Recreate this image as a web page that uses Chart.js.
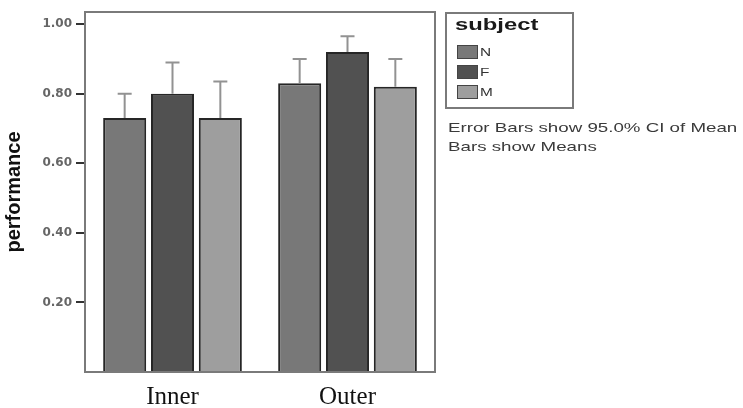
<!DOCTYPE html>
<html>
<head>
<meta charset="utf-8">
<script src="https://cdn.jsdelivr.net/npm/chart.js@4"></script>
<style>
  html, body { margin: 0; padding: 0; background: #fff; }
  #wrap { width: 743px; height: 408px; }
</style>
</head>
<body>
<div id="wrap"><canvas id="perfChart" width="743" height="408"></canvas></div>
<script>
// data
const groups = ["Inner", "Outer"];
const subjects = ["N", "F", "M"];
const meanN = [0.73, 0.83];
const meanF = [0.80, 0.92];
const meanM = [0.73, 0.82];
const ciUpperN = [0.80, 0.90];
const ciUpperF = [0.89, 0.965];
const ciUpperM = [0.835, 0.90];
const yTicks = [0.20, 0.40, 0.60, 0.80, 1.00];
const notes = ["Error Bars show 95.0% CI of Mean", "Bars show Means"];

const fills = ["#787878", "#515151", "#9e9e9e"];
const means = [meanN, meanF, meanM];
const ciUpper = [ciUpperN, ciUpperF, ciUpperM];

// frame round the plot + error bars + legend box and notes
const extras = {
  id: "extras",
  afterDatasetsDraw (chart) {
    const ctx = chart.ctx;
    const y = chart.scales.y;
    ctx.save();
    ctx.strokeStyle = "#929292";
    ctx.lineWidth = 2;
    chart.data.datasets.forEach((ds, i) => {
      const meta = chart.getDatasetMeta(i);
      meta.data.forEach((bar, j) => {
        const yTop = y.getPixelForValue(ds.ciUpper[j]);
        ctx.beginPath();
        ctx.moveTo(bar.x, bar.y);
        ctx.lineTo(bar.x, yTop);
        ctx.moveTo(bar.x - 7, yTop);
        ctx.lineTo(bar.x + 7, yTop);
        ctx.stroke();
      });
    });
    ctx.restore();
  },
  afterDraw (chart) {
    const ctx = chart.ctx;
    const a = chart.chartArea;
    ctx.save();
    ctx.strokeStyle = "#7a7a7a";
    ctx.lineWidth = 2;
    ctx.strokeRect(a.left, a.top, a.right - a.left, a.bottom - a.top);

    // legend
    ctx.strokeRect(446, 13, 127, 95);
    ctx.fillStyle = "#1a1a1a";
    ctx.textBaseline = "middle";
    ctx.save();
    ctx.translate(455, 25);
    ctx.scale(1.4, 1);
    ctx.font = "bold 17px 'Liberation Sans', Arial";
    ctx.fillText("subject", 0, 0);
    ctx.restore();
    chart.data.datasets.forEach((ds, i) => {
      const cy = 52 + i * 20;
      ctx.fillStyle = ds.backgroundColor;
      ctx.fillRect(457, cy - 7, 21, 14);
      ctx.strokeStyle = "#444";
      ctx.lineWidth = 1;
      ctx.strokeRect(457.5, cy - 6.5, 20, 13);
      ctx.fillStyle = "#333";
      ctx.save();
      ctx.translate(480, cy + 1);
      ctx.scale(1.4, 1);
      ctx.font = "11px 'Liberation Sans', Arial";
      ctx.fillText(ds.label, 0, 0);
      ctx.restore();
    });

    // notes under the legend
    ctx.fillStyle = "#3a3a3a";
    notes.forEach((t, k) => {
      ctx.save();
      ctx.translate(448, 128 + k * 19);
      ctx.scale(1.44, 1);
      ctx.font = "13px 'Liberation Sans', Arial";
      ctx.fillText(t, 0, 0);
      ctx.restore();
    });
    ctx.restore();
  }
};

new Chart(document.getElementById("perfChart"), {
  type: "bar",
  data: {
    labels: groups,
    datasets: subjects.map((s, i) => ({
      label: s,
      data: means[i],
      ciUpper: ciUpper[i],
      backgroundColor: fills[i],
      borderColor: "#262626",
      borderWidth: 2,
      borderSkipped: "bottom",
      categoryPercentage: 0.82,
      barPercentage: 0.9
    }))
  },
  options: {
    responsive: false,
    animation: false,
    layout: { padding: { top: 12, right: 308, left: 0, bottom: 0 } },
    plugins: {
      legend: { display: false },
      tooltip: { enabled: false }
    },
    scales: {
      x: {
        grid: { display: false },
        border: { display: false },
        ticks: {
          color: "#111",
          padding: 2,
          font: { family: "'Liberation Serif', 'Times New Roman', serif", size: 25 }
        },
        afterFit (scale) { scale.height = 36; }
      },
      y: {
        min: 0,
        max: 1.035,
        afterBuildTicks (scale) { scale.ticks = yTicks.map(v => ({ value: v })); },
        grid: { drawOnChartArea: false, tickLength: 9, color: "#333", lineWidth: 2 },
        border: { display: false },
        ticks: {
          color: "#666",
          padding: 4,
          font: { family: "'DejaVu Sans', sans-serif", size: 12, weight: "bold" },
          callback: v => Number(v).toFixed(2)
        },
        title: {
          display: true,
          text: "performance",
          color: "#111",
          padding: { top: 2, bottom: 4 },
          font: { family: "'Liberation Sans', Arial", size: 20, weight: "bold" }
        },
        afterFit (scale) { scale.width = 85; }
      }
    }
  },
  plugins: [extras]
});
</script>
</body>
</html>
